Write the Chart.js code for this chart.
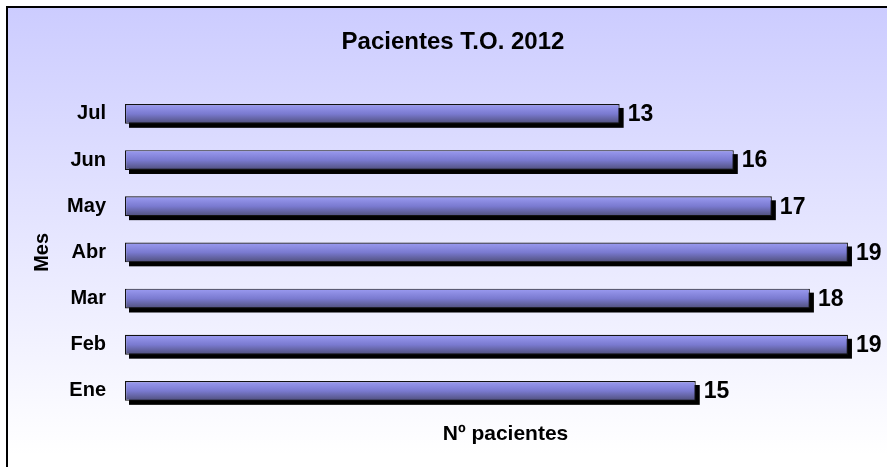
<!DOCTYPE html>
<html>
<head>
<meta charset="utf-8">
<script src="https://cdn.jsdelivr.net/npm/chart.js@4.4.0/dist/chart.umd.min.js"></script>
<style>
    html, body { margin: 0; padding: 0; background: #ffffff; }
    #wrap { width: 887px; height: 467px; position: relative; }
</style>
</head>
<body>
<div id="wrap"><canvas id="barChart"></canvas></div>
<script>
// Datos
const meses = ['Ene', 'Feb', 'Mar', 'Abr', 'May', 'Jun', 'Jul'];
const pacientes = [15, 19, 18, 19, 17, 16, 13];
const FONT = 'Arial, "Liberation Sans", sans-serif';

// Fondo degradado y marco
const frameBg = {
    id: 'frameBg',
    beforeDraw(chart) {
        const c = chart.ctx;
        c.save();
        c.fillStyle = '#ffffff';
        c.fillRect(0, 0, chart.width, chart.height);
        const g = c.createLinearGradient(0, 7, 0, 455);
        g.addColorStop(0, '#ccccff');
        g.addColorStop(1, '#ffffff');
        c.fillStyle = g;
        c.fillRect(7, 7, chart.width, chart.height);
        c.strokeStyle = '#000000';
        c.lineWidth = 2;
        c.beginPath();
        c.moveTo(7, chart.height);
        c.lineTo(7, 7);
        c.lineTo(chart.width, 7);
        c.stroke();
        c.restore();
    }
};

// Sombra negra detras de cada barra
const barShadow = {
    id: 'barShadow',
    beforeDatasetsDraw(chart) {
        const c = chart.ctx;
        c.save();
        c.fillStyle = '#000000';
        chart.getDatasetMeta(0).data.forEach(bar => {
            const h = bar.height;
            c.fillRect(bar.base + 4, bar.y - h / 2 + 4, bar.x - bar.base, h);
        });
        c.restore();
    }
};

// Valores al final de cada barra
const valueLabels = {
    id: 'valueLabels',
    afterDatasetsDraw(chart) {
        const c = chart.ctx;
        c.save();
        c.fillStyle = '#000000';
        c.font = 'bold 23px ' + FONT;
        c.textAlign = 'left';
        c.textBaseline = 'middle';
        chart.getDatasetMeta(0).data.forEach((bar, i) => {
            c.fillText(String(pacientes[i]), bar.x + 8, bar.y + 1);
        });
        c.restore();
    }
};

const ctx = document.getElementById('barChart').getContext('2d');
const barChart = new Chart(ctx, {
    type: 'bar',
    data: {
        labels: meses,
        datasets: [{
            data: pacientes,
            backgroundColor: function(context) {
                const chart = context.chart;
                const ys = chart.scales.y;
                if (!ys || context.dataIndex === undefined) return '#7a7ad0';
                const yc = ys.getPixelForValue(context.dataIndex);
                if (!Number.isFinite(yc)) return '#7a7ad0';
                const g = chart.ctx.createLinearGradient(0, yc - 10, 0, yc + 10);
                g.addColorStop(0, '#9c9cf2');
                g.addColorStop(0.5, '#7a7ad0');
                g.addColorStop(1, '#4e4e78');
                return g;
            },
            borderColor: '#111111',
            borderWidth: 1.2,
            borderSkipped: false,
            barPercentage: 0.43,
            categoryPercentage: 1
        }]
    },
    options: {
        indexAxis: 'y',
        responsive: true,
        maintainAspectRatio: false,
        animation: false,
        layout: { padding: { left: 20, right: 1, top: 0, bottom: 0 } },
        scales: {
            x: {
                min: 0,
                max: 20,
                grid: { display: false, drawTicks: false },
                border: { display: false },
                ticks: { display: false },
                title: {
                    display: true,
                    text: 'Nº pacientes',
                    color: '#000000',
                    font: { family: FONT, size: 21, weight: 'bold' },
                    padding: { top: 0, bottom: 20 }
                },
                afterFit(scale) { scale.height = 53; }
            },
            y: {
                reverse: true,
                grid: { display: false, drawTicks: false },
                border: { display: false },
                ticks: {
                    color: '#000000',
                    font: { family: FONT, size: 20, weight: 'bold' },
                    padding: 19
                },
                title: {
                    display: true,
                    text: 'Mes',
                    color: '#000000',
                    font: { family: FONT, size: 20, weight: 'bold' },
                    padding: { top: 10, bottom: 0 }
                },
                afterFit(scale) { scale.width = 105; }
            }
        },
        plugins: {
            legend: { display: false },
            tooltip: { enabled: false },
            title: {
                display: true,
                text: 'Pacientes T.O. 2012',
                color: '#000000',
                font: { family: FONT, size: 24, weight: 'bold' },
                padding: { top: 28, bottom: 34 }
            }
        }
    },
    plugins: [frameBg, barShadow, valueLabels]
});
</script>
</body>
</html>
